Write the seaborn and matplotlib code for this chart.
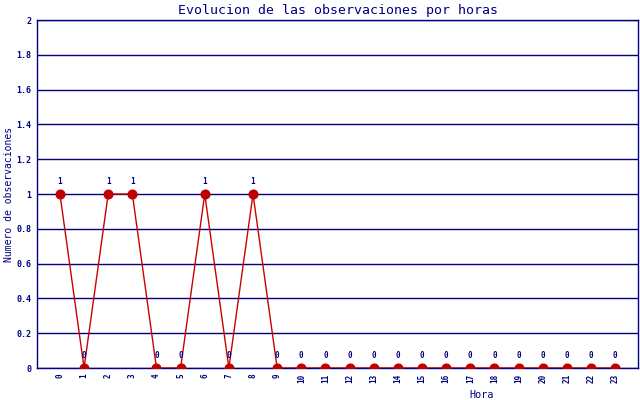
import seaborn as sns
import matplotlib.pyplot as plt
import pandas as pd

# datos del grafico
horas = list(range(24))
observaciones = [1, 0, 1, 1, 0, 0, 1, 0, 1, 0, 0, 0, 0, 0, 0, 0, 0, 0, 0, 0, 0, 0, 0, 0]
y_ticks = [0, 0.2, 0.4, 0.6, 0.8, 1, 1.2, 1.4, 1.6, 1.8, 2]
y_tick_labels = ["0", "0.2", "0.4", "0.6", "0.8", "1", "1.2", "1.4", "1.6", "1.8", "2"]

NAVY = "#000080"
RED = "#cc0000"

sns.set_style("white")
plt.rcParams['font.family'] = ['DejaVu Sans Mono', 'DejaVu Sans']

df = pd.DataFrame({"Hora": horas, "Obs": observaciones})

fig = plt.figure(figsize=(6.4, 4), dpi=100)
ax = fig.add_axes([37 / 640, 32 / 400, 601 / 640, 348 / 400])

sns.lineplot(data=df, x="Hora", y="Obs", ax=ax, color=RED, linewidth=1,
             marker="o", markersize=6.5, markerfacecolor="#c00000",
             markeredgecolor="#c00000", zorder=3)

for h, v in zip(horas, observaciones):
    ax.text(h, v + 0.045, str(v), ha="center", va="bottom", fontsize=5.5,
            fontweight="bold", color=NAVY)

ax.set_xlim(-0.95, 23.95)
ax.set_ylim(0, 2)
ax.set_yticks(y_ticks)
ax.set_yticklabels(y_tick_labels, fontsize=6, fontweight="bold", color=NAVY)
ax.set_xticks(horas)
ax.set_xticklabels([str(h) for h in horas], rotation=90, fontsize=5.5,
                   fontweight="bold", color=NAVY)
ax.tick_params(length=0, pad=4)
ax.yaxis.grid(True, color=NAVY, linewidth=1)
ax.set_axisbelow(True)
for s in ax.spines.values():
    s.set_color(NAVY)
    s.set_linewidth(1)

ax.set_title("Evolucion de las observaciones por horas", fontsize=9.5,
             color=NAVY, pad=4)
ax.set_ylabel("Numero de observaciones", fontsize=7, color=NAVY)
ax.yaxis.set_label_coords(-23 / 601, 0.5)
ax.set_xlabel("Hora", fontsize=7.3, color=NAVY)
ax.xaxis.set_label_coords((482 - 37) / 601, -22 / 348)

fig.savefig("out.png", dpi=100)
